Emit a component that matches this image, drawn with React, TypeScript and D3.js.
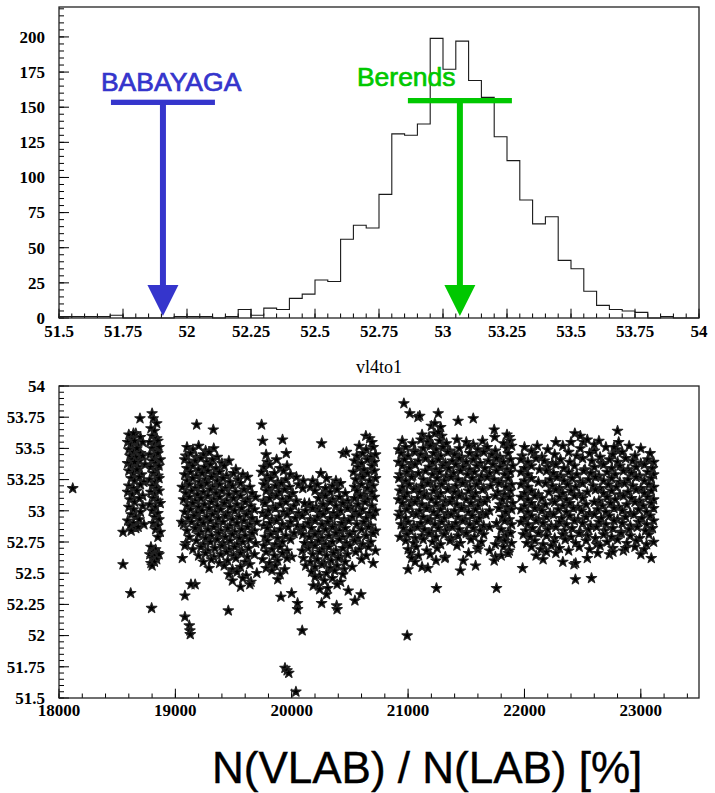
import React from 'react';
import * as d3 from 'd3';

// ---- top histogram: counts per 0.05 bin starting at 51.5
const binStart = 51.5;
const binWidth = 0.05;
const histCounts = [1, 1, 1, 1, 2, 0, 0, 0, 0, 1, 1, 1, 0, 1, 6, 2, 7, 6, 14, 17, 27, 26, 56, 66, 64, 88, 131, 130, 138, 199, 177, 197, 169, 157, 129, 112, 84, 67, 72, 41, 35, 19, 9, 6, 5, 4, 0, 1, 0, 0];

const topXTicks = [51.5, 51.75, 52, 52.25, 52.5, 52.75, 53, 53.25, 53.5, 53.75, 54];
const topXLabels = ['51.5', '51.75', '52', '52.25', '52.5', '52.75', '53', '53.25', '53.5', '53.75', '54'];
const topYTicks = [0, 25, 50, 75, 100, 125, 150, 175, 200];

// generator predictions drawn as arrows
const arrowNames = ['BABAYAGA', 'Berends'];
const arrowValues = [51.906, 53.066];
const arrowLevels = [153.5, 154.7];
const arrowColors = ['#3535cc', '#00c800'];

// ---- bottom scatter: ratio per run
const botXTicks = [18000, 19000, 20000, 21000, 22000, 23000];
const botYTicks = [51.5, 51.75, 52, 52.25, 52.5, 52.75, 53, 53.25, 53.5, 53.75, 54];
const botYLabels = ['51.5', '51.75', '52', '52.25', '52.5', '52.75', '53', '53.25', '53.5', '53.75', '54'];

const runsA: [number, number][] = [
  [18118, 53.18],
  [18600, 53.61], [18630, 53.58], [18660, 53.62], [18700, 53.59],
  [18590, 53.55], [18620, 53.53], [18650, 53.56], [18680, 53.52], [18720, 53.55],
  [18600, 53.49], [18640, 53.47], [18670, 53.5], [18700, 53.46],
  [18610, 53.44], [18630, 53.41], [18660, 53.43], [18690, 53.4], [18720, 53.44],
  [18590, 53.38], [18620, 53.36], [18650, 53.39], [18680, 53.35], [18740, 53.37],
  [18600, 53.32], [18640, 53.3], [18670, 53.33], [18710, 53.29],
  [18620, 53.26], [18650, 53.24], [18690, 53.27], [18730, 53.23],
  [18600, 53.2], [18640, 53.18], [18700, 53.21],
  [18590, 53.15], [18630, 53.13], [18670, 53.16], [18720, 53.12],
  [18610, 53.09], [18650, 53.07], [18690, 53.1],
  [18600, 53.03], [18640, 53.01], [18720, 53.04],
  [18620, 52.97], [18660, 52.95], [18700, 52.99],
  [18590, 52.92], [18640, 52.9], [18690, 52.93],
  [18610, 52.88], [18660, 52.86], [18730, 52.89],
  [18620, 52.84], [18680, 52.87], [18550, 52.83],
  [18800, 53.78], [18810, 53.74], [18840, 53.7], [18790, 53.66], [18820, 53.64],
  [18800, 53.6], [18840, 53.58], [18780, 53.55], [18820, 53.53], [18850, 53.56],
  [18800, 53.5], [18840, 53.48], [18860, 53.51], [18780, 53.45], [18820, 53.43], [18850, 53.46],
  [18800, 53.4], [18830, 53.38], [18870, 53.41], [18790, 53.35], [18840, 53.33], [18860, 53.36],
  [18810, 53.3], [18850, 53.28], [18780, 53.25], [18830, 53.23], [18860, 53.26],
  [18800, 53.2], [18840, 53.18], [18790, 53.15], [18820, 53.13], [18860, 53.16],
  [18810, 53.1], [18850, 53.08], [18780, 53.05], [18830, 53.03], [18870, 53.06],
  [18800, 53.0], [18850, 52.98], [18820, 52.95], [18860, 52.93], [18810, 52.9], [18850, 52.88],
  [18830, 52.85], [18870, 52.83], [18850, 52.79],
  [18790, 52.71], [18830, 52.69], [18810, 52.67], [18850, 52.66], [18780, 52.65], [18820, 52.64], [18860, 52.65],
  [18800, 52.62], [18840, 52.61], [18790, 52.58], [18820, 52.59], [18800, 52.56],
  [18550, 52.57], [18616, 52.34], [18796, 52.22], [18696, 53.74], [18640, 53.62],
];

const runsB: [number, number][] = [
  [19100, 53.51], [19150, 53.49], [19200, 53.52], [19260, 53.48], [19330, 53.5], [20580, 53.52], [20640, 53.49], [20700, 53.51],
  [19090, 53.44], [19130, 53.46], [19180, 53.43], [19240, 53.45], [19290, 53.47], [19360, 53.43], [19780, 53.45], [20560, 53.44], [20610, 53.46], [20680, 53.43], [20720, 53.45],
  [19080, 53.41], [19120, 53.38], [19170, 53.4], [19220, 53.42], [19270, 53.39], [19320, 53.41], [19400, 53.38], [19460, 53.4], [19790, 53.39], [19870, 53.41], [20540, 53.4], [20600, 53.38], [20650, 53.41], [20710, 53.39],
  [19100, 53.34], [19150, 53.36], [19200, 53.33], [19250, 53.35], [19300, 53.37], [19350, 53.34], [19420, 53.36], [19520, 53.33], [19760, 53.35], [19810, 53.37], [19900, 53.34], [19960, 53.36], [20570, 53.35], [20620, 53.33], [20690, 53.36],
  [19080, 53.29], [19130, 53.31], [19180, 53.28], [19230, 53.3], [19280, 53.32], [19330, 53.29], [19380, 53.31], [19440, 53.28], [19500, 53.3], [19580, 53.29], [19740, 53.31], [19790, 53.28], [19850, 53.3], [19930, 53.32], [19990, 53.29], [20250, 53.3], [20530, 53.31], [20590, 53.28], [20650, 53.3], [20710, 53.32],
  [19100, 53.24], [19150, 53.26], [19210, 53.23], [19260, 53.25], [19310, 53.27], [19360, 53.24], [19410, 53.26], [19470, 53.23], [19540, 53.25], [19620, 53.27], [19770, 53.24], [19820, 53.26], [19880, 53.23], [19950, 53.25], [20040, 53.27], [20180, 53.24], [20300, 53.26], [20380, 53.24], [20550, 53.25], [20610, 53.27], [20670, 53.24], [20720, 53.26],
  [19060, 53.19], [19120, 53.21], [19170, 53.18], [19220, 53.2], [19270, 53.22], [19320, 53.19], [19380, 53.21], [19430, 53.18], [19490, 53.2], [19560, 53.22], [19640, 53.19], [19760, 53.21], [19800, 53.18], [19860, 53.2], [19910, 53.22], [19980, 53.19], [20060, 53.21], [20160, 53.19], [20220, 53.21], [20290, 53.18], [20350, 53.2], [20420, 53.22], [20540, 53.19], [20600, 53.21], [20650, 53.18], [20700, 53.2],
  [19090, 53.14], [19140, 53.16], [19190, 53.13], [19240, 53.15], [19300, 53.17], [19350, 53.14], [19400, 53.16], [19460, 53.13], [19520, 53.15], [19590, 53.17], [19660, 53.14], [19780, 53.16], [19830, 53.13], [19890, 53.15], [19940, 53.17], [20010, 53.14], [20200, 53.16], [20260, 53.13], [20330, 53.15], [20390, 53.17], [20460, 53.14], [20560, 53.16], [20620, 53.13], [20690, 53.15],
  [19070, 53.09], [19120, 53.11], [19170, 53.08], [19220, 53.1], [19280, 53.12], [19330, 53.09], [19380, 53.11], [19440, 53.08], [19500, 53.1], [19560, 53.12], [19620, 53.09], [19690, 53.11], [19760, 53.08], [19810, 53.1], [19870, 53.12], [19920, 53.09], [19980, 53.11], [20040, 53.08], [20230, 53.1], [20290, 53.12], [20350, 53.09], [20410, 53.11], [20480, 53.08], [20540, 53.1], [20590, 53.12], [20650, 53.09], [20710, 53.11],
  [19100, 53.04], [19150, 53.06], [19200, 53.03], [19250, 53.05], [19310, 53.07], [19360, 53.04], [19420, 53.06], [19470, 53.03], [19530, 53.05], [19600, 53.07], [19650, 53.04], [19770, 53.06], [19840, 53.03], [19900, 53.05], [19950, 53.07], [20020, 53.04], [20150, 53.06], [20210, 53.03], [20270, 53.05], [20330, 53.07], [20380, 53.04], [20440, 53.06], [20510, 53.03], [20570, 53.05], [20630, 53.07], [20690, 53.04],
  [19080, 52.99], [19130, 53.01], [19180, 52.98], [19230, 53.0], [19290, 53.02], [19340, 52.99], [19390, 53.01], [19450, 52.98], [19510, 53.0], [19570, 53.02], [19630, 52.99], [19680, 53.01], [19750, 52.98], [19800, 53.0], [19860, 53.02], [19930, 52.99], [19990, 53.01], [20060, 52.98], [20120, 53.0], [20180, 53.02], [20240, 52.99], [20300, 53.01], [20360, 52.98], [20420, 53.0], [20480, 53.02], [20550, 52.99], [20610, 53.01], [20670, 52.98], [20720, 53.0],
  [19110, 52.94], [19160, 52.96], [19210, 52.93], [19270, 52.95], [19320, 52.97], [19370, 52.94], [19430, 52.96], [19490, 52.93], [19550, 52.95], [19610, 52.97], [19660, 52.94], [19780, 52.96], [19830, 52.93], [19890, 52.95], [19960, 52.97], [20030, 52.94], [20090, 52.96], [20160, 52.93], [20220, 52.95], [20270, 52.97], [20330, 52.94], [20390, 52.96], [20450, 52.93], [20520, 52.95], [20580, 52.97], [20640, 52.94], [20700, 52.96],
  [19070, 52.89], [19140, 52.91], [19190, 52.88], [19240, 52.9], [19300, 52.92], [19350, 52.89], [19410, 52.91], [19470, 52.88], [19530, 52.9], [19590, 52.92], [19640, 52.89], [19700, 52.91], [19760, 52.88], [19810, 52.9], [19870, 52.92], [19920, 52.89], [19990, 52.91], [20050, 52.88], [20140, 52.9], [20200, 52.92], [20260, 52.89], [20310, 52.91], [20370, 52.88], [20430, 52.9], [20490, 52.92], [20560, 52.89], [20620, 52.91], [20680, 52.88],
  [19100, 52.84], [19170, 52.86], [19220, 52.83], [19280, 52.85], [19330, 52.87], [19390, 52.84], [19450, 52.86], [19510, 52.83], [19570, 52.85], [19620, 52.87], [19680, 52.84], [19790, 52.86], [19850, 52.83], [19900, 52.85], [19970, 52.87], [20080, 52.84], [20170, 52.86], [20230, 52.83], [20290, 52.85], [20350, 52.87], [20410, 52.84], [20460, 52.86], [20530, 52.83], [20600, 52.85], [20660, 52.87], [20720, 52.84],
  [19120, 52.79], [19200, 52.81], [19260, 52.78], [19310, 52.8], [19370, 52.82], [19430, 52.79], [19490, 52.81], [19550, 52.78], [19600, 52.8], [19660, 52.82], [19770, 52.79], [19820, 52.81], [19880, 52.78], [19950, 52.8], [20020, 52.82], [20150, 52.79], [20200, 52.81], [20260, 52.78], [20320, 52.8], [20380, 52.82], [20440, 52.79], [20500, 52.81], [20570, 52.78], [20640, 52.8], [20700, 52.82],
  [19090, 52.74], [19180, 52.76], [19240, 52.73], [19300, 52.75], [19360, 52.77], [19410, 52.74], [19470, 52.76], [19530, 52.73], [19580, 52.75], [19640, 52.77], [19690, 52.74], [19790, 52.76], [19860, 52.73], [19920, 52.75], [19990, 52.77], [20170, 52.74], [20230, 52.76], [20290, 52.73], [20350, 52.75], [20410, 52.77], [20470, 52.74], [20540, 52.76], [20610, 52.73], [20680, 52.75],
  [19150, 52.69], [19220, 52.71], [19280, 52.68], [19340, 52.7], [19400, 52.72], [19460, 52.69], [19510, 52.71], [19570, 52.68], [19630, 52.7], [19760, 52.72], [19830, 52.69], [19900, 52.71], [19960, 52.68], [20140, 52.7], [20200, 52.72], [20260, 52.69], [20320, 52.71], [20380, 52.68], [20440, 52.7], [20500, 52.72], [20580, 52.69], [20660, 52.71], [20720, 52.68],
  [19200, 52.64], [19260, 52.66], [19330, 52.63], [19390, 52.65], [19440, 52.67], [19500, 52.64], [19560, 52.66], [19620, 52.63], [19680, 52.65], [19780, 52.67], [19850, 52.64], [19920, 52.66], [20000, 52.63], [20180, 52.65], [20240, 52.67], [20300, 52.64], [20360, 52.66], [20420, 52.63], [20480, 52.65], [20550, 52.67], [20640, 52.64],
  [19240, 52.59], [19310, 52.61], [19380, 52.58], [19450, 52.6], [19520, 52.62], [19600, 52.59], [19750, 52.61], [19810, 52.58], [19880, 52.6], [19960, 52.62], [20160, 52.59], [20220, 52.61], [20280, 52.58], [20340, 52.6], [20400, 52.62], [20460, 52.59], [20600, 52.61], [20700, 52.58],
  [19290, 52.54], [19420, 52.56], [19490, 52.53], [19560, 52.55], [19640, 52.57], [19780, 52.54], [19860, 52.56], [19940, 52.53], [20200, 52.55], [20260, 52.57], [20330, 52.54], [20390, 52.56], [20450, 52.53], [20520, 52.55],
  [19460, 52.49], [19530, 52.51], [19610, 52.48], [19700, 52.5], [19830, 52.52], [19900, 52.49], [20170, 52.51], [20240, 52.48], [20300, 52.5], [20370, 52.52], [20440, 52.49],
  [19490, 52.44], [19580, 52.46], [19650, 52.43], [19880, 52.45], [20200, 52.47], [20280, 52.44], [20350, 52.46], [20420, 52.43],
  [19170, 52.41], [19560, 52.39], [19640, 52.41], [20230, 52.4], [20310, 52.38], [20390, 52.41],
  [20100, 52.62], [20090, 52.68], [20110, 52.74], [20095, 52.81], [20100, 52.87], [20110, 53.06], [20100, 53.24], [20095, 53.18], [20120, 52.56],
  [19054, 52.91], [19082, 52.72], [19060, 52.62], [19134, 52.41], [19082, 52.32], [19082, 52.15], [19120, 52.08], [19125, 52.04], [19128, 52.01],
  [19455, 52.2], [19907, 52.31], [19999, 52.34], [20050, 52.21], [20050, 52.26], [20090, 52.04], [20257, 52.26], [20300, 52.33],
  [20386, 52.24], [20390, 52.21], [20486, 52.36], [20543, 52.28], [20595, 52.33], [20185, 52.4], [20240, 52.37],
  [19942, 51.74], [19960, 51.72], [19975, 51.7], [20036, 51.55],
  [19183, 53.69], [19326, 53.65], [19741, 53.69], [19750, 53.56], [19921, 53.57], [19953, 53.46], [20257, 53.54],
  [20443, 53.46], [20470, 53.47], [20637, 53.6], [20670, 53.58], [20690, 53.55],
];

const runsC: [number, number][] = [
  [21120, 53.61], [21180, 53.59], [21230, 53.62], [21290, 53.6], [21870, 53.59],
  [20950, 53.56], [21040, 53.54], [21110, 53.57], [21170, 53.55], [21210, 53.53], [21270, 53.56], [21330, 53.54], [21420, 53.57], [21500, 53.55], [21560, 53.53], [21640, 53.56], [21820, 53.54], [21880, 53.56],
  [20920, 53.49], [20980, 53.51], [21050, 53.48], [21130, 53.5], [21190, 53.52], [21240, 53.49], [21300, 53.51], [21360, 53.48], [21440, 53.5], [21520, 53.52], [21600, 53.49], [21680, 53.51], [21750, 53.48], [21850, 53.5], [21890, 53.52],
  [20940, 53.46], [21000, 53.44], [21060, 53.47], [21110, 53.45], [21160, 53.43], [21220, 53.46], [21280, 53.44], [21340, 53.47], [21400, 53.45], [21460, 53.43], [21530, 53.46], [21590, 53.44], [21650, 53.47], [21720, 53.45], [21790, 53.43], [21860, 53.46],
  [20920, 53.39], [20970, 53.41], [21030, 53.38], [21090, 53.4], [21150, 53.42], [21210, 53.39], [21260, 53.41], [21320, 53.38], [21380, 53.4], [21440, 53.42], [21500, 53.39], [21560, 53.41], [21620, 53.38], [21690, 53.4], [21760, 53.42], [21820, 53.39], [21880, 53.41],
  [20950, 53.36], [21010, 53.34], [21060, 53.37], [21180, 53.35], [21240, 53.33], [21300, 53.36], [21350, 53.34], [21410, 53.37], [21470, 53.35], [21530, 53.33], [21590, 53.36], [21660, 53.34], [21730, 53.37], [21790, 53.35], [21850, 53.33], [21900, 53.36],
  [20930, 53.29], [20990, 53.31], [21040, 53.28], [21090, 53.3], [21150, 53.32], [21210, 53.29], [21270, 53.31], [21330, 53.28], [21390, 53.3], [21450, 53.32], [21510, 53.29], [21570, 53.31], [21630, 53.28], [21700, 53.3], [21760, 53.32], [21830, 53.29], [21880, 53.31],
  [20920, 53.26], [20980, 53.24], [21030, 53.27], [21130, 53.25], [21190, 53.23], [21250, 53.26], [21310, 53.24], [21370, 53.27], [21430, 53.25], [21490, 53.23], [21550, 53.26], [21610, 53.24], [21680, 53.27], [21740, 53.25], [21800, 53.23], [21860, 53.26],
  [20950, 53.19], [21010, 53.21], [21070, 53.18], [21120, 53.2], [21170, 53.22], [21230, 53.19], [21290, 53.21], [21350, 53.18], [21410, 53.2], [21470, 53.22], [21530, 53.19], [21590, 53.21], [21650, 53.18], [21710, 53.2], [21780, 53.22], [21840, 53.19], [21890, 53.21],
  [20930, 53.16], [20990, 53.14], [21050, 53.17], [21100, 53.15], [21160, 53.13], [21220, 53.16], [21280, 53.14], [21340, 53.17], [21400, 53.15], [21460, 53.13], [21520, 53.16], [21580, 53.14], [21640, 53.17], [21770, 53.15], [21830, 53.13], [21880, 53.16],
  [20920, 53.09], [20970, 53.11], [21030, 53.08], [21080, 53.1], [21140, 53.12], [21200, 53.09], [21260, 53.11], [21320, 53.08], [21380, 53.1], [21440, 53.12], [21500, 53.09], [21560, 53.11], [21620, 53.08], [21680, 53.1], [21750, 53.12], [21810, 53.09], [21870, 53.11],
  [20950, 53.06], [21010, 53.04], [21060, 53.07], [21120, 53.05], [21180, 53.03], [21240, 53.06], [21300, 53.04], [21360, 53.07], [21420, 53.05], [21480, 53.03], [21540, 53.06], [21600, 53.04], [21660, 53.07], [21790, 53.05], [21850, 53.03], [21900, 53.06],
  [20930, 52.99], [20990, 53.01], [21040, 52.98], [21100, 53.0], [21160, 53.02], [21220, 52.99], [21280, 53.01], [21340, 52.98], [21400, 53.0], [21460, 53.02], [21520, 52.99], [21580, 53.01], [21640, 52.98], [21700, 53.0], [21780, 53.02], [21840, 52.99], [21890, 53.01],
  [20920, 52.96], [20980, 52.94], [21070, 52.97], [21130, 52.95], [21190, 52.93], [21250, 52.96], [21310, 52.94], [21370, 52.97], [21430, 52.95], [21490, 52.93], [21550, 52.96], [21610, 52.94], [21670, 52.97], [21810, 52.95], [21870, 52.93],
  [20940, 52.89], [21000, 52.91], [21050, 52.88], [21110, 52.9], [21170, 52.92], [21230, 52.89], [21290, 52.91], [21350, 52.88], [21410, 52.9], [21470, 52.92], [21530, 52.89], [21590, 52.91], [21650, 52.88], [21760, 52.9], [21830, 52.92], [21890, 52.89],
  [20960, 52.86], [21020, 52.84], [21080, 52.87], [21140, 52.85], [21200, 52.83], [21260, 52.86], [21320, 52.84], [21380, 52.87], [21440, 52.85], [21500, 52.83], [21560, 52.86], [21620, 52.84], [21700, 52.87], [21800, 52.85], [21860, 52.83],
  [20930, 52.79], [20990, 52.81], [21060, 52.78], [21120, 52.8], [21180, 52.82], [21240, 52.79], [21310, 52.81], [21370, 52.78], [21430, 52.8], [21500, 52.82], [21570, 52.79], [21650, 52.81], [21780, 52.78], [21840, 52.8], [21880, 52.82],
  [20980, 52.76], [21050, 52.74], [21130, 52.77], [21210, 52.75], [21280, 52.73], [21360, 52.76], [21450, 52.74], [21540, 52.77], [21630, 52.75], [21750, 52.73], [21830, 52.76], [21890, 52.74],
  [21000, 52.69], [21070, 52.71], [21160, 52.68], [21250, 52.7], [21420, 52.72], [21600, 52.69], [21820, 52.71], [21870, 52.68],
  [21020, 52.66], [21090, 52.64], [21190, 52.65], [21320, 52.63], [21520, 52.66], [21800, 52.64],
  [20964, 53.86], [21015, 53.78], [21085, 53.75], [21100, 53.76], [21259, 53.78], [21430, 53.72], [21560, 53.74],
  [21200, 53.68], [21230, 53.7], [21280, 53.67], [21260, 53.63], [21740, 53.65], [21745, 53.59], [21850, 53.61],
  [21000, 52.53], [21244, 52.38], [21760, 52.38], [20992, 52.0], [21030, 52.62], [21060, 52.59], [21120, 52.55],
  [21170, 52.54], [21240, 52.6], [21316, 52.62], [21474, 52.6], [21450, 52.52], [21580, 52.56], [21700, 52.68],
  [21750, 52.63], [21740, 52.6], [21860, 52.66], [21600, 52.71],
];

const runsD: [number, number][] = [
  [22000, 53.51], [22200, 53.49], [22330, 53.52], [22480, 53.5], [22600, 53.48], [22700, 53.51], [22790, 53.49], [22900, 53.52], [23000, 53.5],
  [21980, 53.44], [22080, 53.46], [22150, 53.43], [22260, 53.45], [22380, 53.47], [22450, 53.44], [22560, 53.46], [22650, 53.43], [22760, 53.45], [22840, 53.47], [22950, 53.44], [23080, 53.46],
  [21970, 53.41], [22030, 53.39], [22100, 53.42], [22170, 53.4], [22240, 53.38], [22310, 53.41], [22390, 53.39], [22500, 53.42], [22580, 53.4], [22660, 53.38], [22730, 53.41], [22800, 53.39], [22870, 53.42], [22930, 53.4], [23000, 53.38], [23060, 53.41], [23110, 53.39],
  [22000, 53.34], [22060, 53.36], [22130, 53.33], [22200, 53.35], [22270, 53.37], [22340, 53.34], [22430, 53.36], [22520, 53.33], [22600, 53.35], [22680, 53.37], [22750, 53.34], [22820, 53.36], [22890, 53.33], [22960, 53.35], [23030, 53.37], [23100, 53.34],
  [21970, 53.31], [22030, 53.29], [22190, 53.32], [22250, 53.3], [22310, 53.28], [22380, 53.31], [22450, 53.29], [22510, 53.32], [22570, 53.3], [22640, 53.28], [22710, 53.31], [22780, 53.29], [22850, 53.32], [22920, 53.3], [22990, 53.28], [23060, 53.31], [23110, 53.29],
  [22000, 53.24], [22060, 53.26], [22120, 53.23], [22220, 53.25], [22280, 53.27], [22340, 53.24], [22410, 53.26], [22480, 53.23], [22550, 53.25], [22610, 53.27], [22680, 53.24], [22750, 53.26], [22820, 53.23], [22890, 53.25], [22960, 53.27], [23030, 53.24], [23090, 53.26],
  [21970, 53.21], [22030, 53.19], [22180, 53.22], [22240, 53.2], [22300, 53.18], [22370, 53.21], [22440, 53.19], [22500, 53.22], [22590, 53.2], [22650, 53.18], [22720, 53.21], [22790, 53.19], [22860, 53.22], [22930, 53.2], [23000, 53.18], [23070, 53.21], [23110, 53.19],
  [22000, 53.14], [22060, 53.16], [22120, 53.13], [22210, 53.15], [22270, 53.17], [22330, 53.14], [22400, 53.16], [22470, 53.13], [22540, 53.15], [22610, 53.17], [22680, 53.14], [22750, 53.16], [22820, 53.13], [22890, 53.15], [22960, 53.17], [23030, 53.14], [23090, 53.16],
  [21970, 53.11], [22030, 53.09], [22090, 53.12], [22150, 53.1], [22240, 53.08], [22300, 53.11], [22360, 53.09], [22430, 53.12], [22500, 53.1], [22640, 53.08], [22710, 53.11], [22780, 53.09], [22850, 53.12], [22920, 53.1], [22990, 53.08], [23060, 53.11], [23110, 53.09],
  [22000, 53.04], [22060, 53.06], [22120, 53.03], [22180, 53.05], [22260, 53.07], [22330, 53.04], [22390, 53.06], [22460, 53.03], [22530, 53.05], [22600, 53.07], [22670, 53.04], [22740, 53.06], [22810, 53.03], [22880, 53.05], [22950, 53.07], [23020, 53.04], [23090, 53.06],
  [21970, 53.01], [22030, 52.99], [22090, 53.02], [22150, 53.0], [22220, 52.98], [22290, 53.01], [22360, 52.99], [22420, 53.02], [22490, 53.0], [22560, 52.98], [22630, 53.01], [22700, 52.99], [22770, 53.02], [22840, 53.0], [22910, 52.98], [22980, 53.01], [23050, 52.99], [23110, 53.02],
  [22000, 52.94], [22060, 52.96], [22120, 52.93], [22190, 52.95], [22250, 52.97], [22320, 52.94], [22390, 52.96], [22460, 52.93], [22530, 52.95], [22600, 52.97], [22660, 52.94], [22730, 52.96], [22800, 52.93], [22870, 52.95], [22940, 52.97], [23010, 52.94], [23080, 52.96],
  [21970, 52.91], [22030, 52.89], [22100, 52.92], [22160, 52.9], [22230, 52.88], [22300, 52.91], [22360, 52.89], [22430, 52.92], [22500, 52.9], [22570, 52.88], [22640, 52.91], [22700, 52.89], [22770, 52.92], [22840, 52.9], [22910, 52.88], [22980, 52.91], [23050, 52.89], [23110, 52.92],
  [22010, 52.84], [22070, 52.86], [22130, 52.83], [22200, 52.85], [22270, 52.87], [22340, 52.84], [22410, 52.86], [22480, 52.83], [22550, 52.85], [22620, 52.87], [22690, 52.84], [22760, 52.86], [22830, 52.83], [22900, 52.85], [22970, 52.87], [23040, 52.84], [23100, 52.86],
  [21990, 52.81], [22050, 52.79], [22120, 52.82], [22190, 52.8], [22260, 52.78], [22330, 52.81], [22400, 52.79], [22470, 52.82], [22540, 52.8], [22610, 52.78], [22680, 52.81], [22750, 52.79], [22830, 52.82], [22910, 52.8], [22990, 52.78], [23070, 52.81],
  [22020, 52.74], [22090, 52.76], [22160, 52.73], [22250, 52.75], [22350, 52.77], [22440, 52.74], [22530, 52.76], [22620, 52.73], [22710, 52.75], [22800, 52.77], [22880, 52.74], [22960, 52.76], [23050, 52.73], [23110, 52.75],
  [22060, 52.71], [22140, 52.69], [22230, 52.72], [22300, 52.7], [22380, 52.68], [22470, 52.71], [22560, 52.69], [22650, 52.72], [22760, 52.7], [22850, 52.68], [22950, 52.71], [23030, 52.69],
  [22433, 53.62], [22480, 53.6], [22800, 53.64], [22400, 53.55], [22510, 53.55], [22540, 53.57], [22600, 53.53], [22640, 53.56],
  [22810, 53.55], [22770, 53.51], [22270, 53.55], [22110, 53.52], [22060, 53.48],
  [21984, 52.54], [22438, 52.45], [22576, 52.46], [22426, 52.57], [22440, 52.58], [22330, 52.59], [22160, 52.61], [22100, 52.64],
  [22540, 52.62], [22630, 52.66], [22730, 52.65], [22760, 52.67], [23000, 52.65], [23090, 52.62], [22870, 52.7], [22190, 52.67], [22270, 52.66],
];

const allRuns = [...runsA, ...runsB, ...runsC, ...runsD];

const W = 715;
const H = 793;

const xTop = d3.scaleLinear().domain([51.5, 54]).range([59, 699]);
const yTop = d3.scaleLinear().domain([0, 221.3]).range([318, 7]);
const xBot = d3.scaleLinear().domain([18000, 23500]).range([59, 699]);
const yBot = d3.scaleLinear().domain([51.5, 54]).range([698, 386]);

const serif = 'Liberation Serif';
const sansFont = 'Liberation Sans';

const star = d3.symbol().type(d3.symbolStar).size(33)() as string;

export default function App() {
  // histogram outline as steps
  const stepPts: [number, number][] = [[xTop(binStart), yTop(0)]];
  histCounts.forEach((c, i) => {
    const x0 = xTop(binStart + i * binWidth);
    const x1 = xTop(binStart + (i + 1) * binWidth);
    stepPts.push([x0, yTop(c)]);
    stepPts.push([x1, yTop(c)]);
  });
  stepPts.push([xTop(binStart + histCounts.length * binWidth), yTop(0)]);
  const histPath = d3.line()(stepPts) as string;

  const topMinorX = d3.range(51.5, 54.001, 0.05);
  const topMinorY = d3.range(0, 221, 5);
  const botMinorX = d3.range(18000, 23501, 200);
  const botMinorY = d3.range(51.5, 54.001, 0.05);

  return (
    <svg width={W} height={H} style={{ position: 'absolute', left: 0, top: 0, background: '#fff' }}>
      <rect x={0} y={0} width={W} height={H} fill="#fff" />

      {/* ---------- top histogram ---------- */}
      <g>
        {topMinorX.map((v, i) => (
          <line key={'tmx' + i} x1={xTop(v)} x2={xTop(v)} y1={yTop(0)} y2={yTop(0) - 4.5} stroke="#000" strokeWidth={1} />
        ))}
        {topXTicks.map((v, i) => (
          <line key={'tMx' + i} x1={xTop(v)} x2={xTop(v)} y1={yTop(0)} y2={yTop(0) - 9.3} stroke="#000" strokeWidth={1} />
        ))}
        {topMinorY.map((v, i) => (
          <line key={'tmy' + i} x1={59} x2={64} y1={yTop(v)} y2={yTop(v)} stroke="#000" strokeWidth={1} />
        ))}
        {topYTicks.map((v, i) => (
          <line key={'tMy' + i} x1={59} x2={69} y1={yTop(v)} y2={yTop(v)} stroke="#000" strokeWidth={1} />
        ))}
        <path d={histPath} fill="none" stroke="#1a1a1a" strokeWidth={1.1} />
        <rect x={59} y={7} width={640} height={311} fill="none" stroke="#222" strokeWidth={1.3} />
        {topXTicks.map((v, i) => (
          <text key={'tlx' + i} x={xTop(v)} y={337} textAnchor="middle" fontFamily={serif} fontWeight="bold" fontSize={17}>
            {topXLabels[i]}
          </text>
        ))}
        {topYTicks.map((v, i) => (
          <text key={'tly' + i} x={45} y={yTop(v) + 5.8} textAnchor="end" fontFamily={serif} fontWeight="bold" fontSize={17}>
            {v}
          </text>
        ))}

        {arrowNames.map((name, i) => {
          const cx = xTop(arrowValues[i]);
          const by = yTop(arrowLevels[i]);
          const tipY = yTop(0) - 2;
          const headTop = tipY - 31;
          const col = arrowColors[i];
          const tx = i === 0 ? cx - 62 : cx - 103;
          const ty = i === 0 ? by - 11 : by - 14.7;
          return (
            <g key={name}>
              <rect x={cx - 52} y={by - 2.6} width={104} height={5.3} fill={col} />
              <rect x={cx - 3} y={by} width={6} height={headTop - by + 1} fill={col} />
              <path d={`M${cx - 15.5},${headTop}L${cx + 15.5},${headTop}L${cx},${tipY}Z`} fill={col} />
              <text x={tx} y={ty} fill={col} stroke={col} strokeWidth={0.7} fontFamily={sansFont} fontSize={26.5}>
                {name}
              </text>
            </g>
          );
        })}
      </g>

      {/* ---------- bottom scatter ---------- */}
      <text x={379} y={373} textAnchor="middle" fontFamily={serif} fontSize={18}>
        vl4to1
      </text>
      <g>
        {botMinorX.map((v, i) => (
          <line key={'bmx' + i} x1={xBot(v)} x2={xBot(v)} y1={yBot(51.5)} y2={yBot(51.5) - 4.5} stroke="#000" strokeWidth={1} />
        ))}
        {botXTicks.map((v, i) => (
          <line key={'bMx' + i} x1={xBot(v)} x2={xBot(v)} y1={yBot(51.5)} y2={yBot(51.5) - 9.3} stroke="#000" strokeWidth={1} />
        ))}
        {botMinorY.map((v, i) => (
          <line key={'bmy' + i} x1={59} x2={64} y1={yBot(v)} y2={yBot(v)} stroke="#000" strokeWidth={1} />
        ))}
        {botYTicks.map((v, i) => (
          <line key={'bMy' + i} x1={59} x2={69} y1={yBot(v)} y2={yBot(v)} stroke="#000" strokeWidth={1} />
        ))}
        {allRuns.map((d, i) => (
          <path key={'p' + i} d={star} transform={`translate(${xBot(d[0])},${yBot(d[1])})`} fill="#000" stroke="#222" strokeWidth={1.2} strokeLinejoin="round" />
        ))}
        <rect x={59} y={386} width={640} height={312} fill="none" stroke="#222" strokeWidth={1.3} />
        {botXTicks.map((v, i) => (
          <text key={'blx' + i} x={xBot(v)} y={716} textAnchor="middle" fontFamily={serif} fontWeight="bold" fontSize={17}>
            {v}
          </text>
        ))}
        {botYTicks.map((v, i) => (
          <text key={'bly' + i} x={45} y={yBot(v) + 5.8} textAnchor="end" fontFamily={serif} fontWeight="bold" fontSize={17}>
            {botYLabels[i]}
          </text>
        ))}
      </g>

      <text x={212} y={783} fontFamily={sansFont} fontSize={44} fill="#000" stroke="#000" strokeWidth={0.4}>
        N(VLAB) / N(LAB) [%]
      </text>
    </svg>
  );
}
